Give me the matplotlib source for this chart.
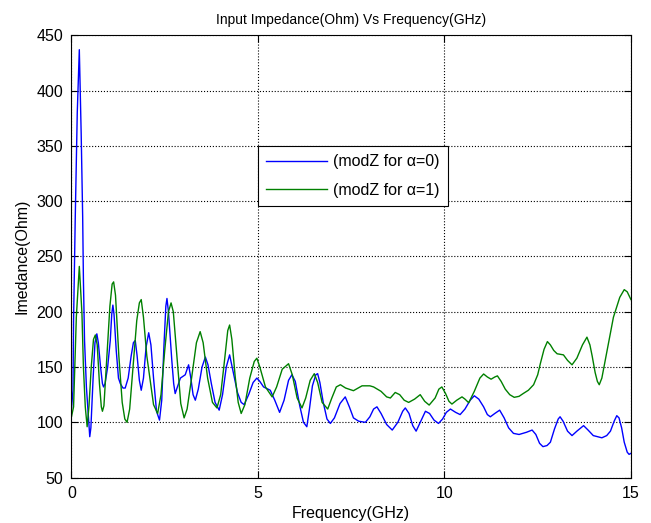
import numpy as np
import matplotlib
matplotlib.use("Agg")
import matplotlib.pyplot as plt

# DATA (GHz / Ohm)
freq_a0 = [0.00, 0.04, 0.056, 0.10, 0.155, 0.21, 0.26, 0.30, 0.32, 0.35, 0.40, 0.46, 0.49,
           0.52, 0.58, 0.63, 0.68, 0.72, 0.78, 0.83, 0.86, 0.90, 0.97, 1.04, 1.08, 1.11,
           1.14, 1.20, 1.26, 1.31, 1.38, 1.44, 1.52, 1.60, 1.66, 1.71, 1.76, 1.82, 1.87,
           1.93, 2.00, 2.07, 2.13, 2.20, 2.28, 2.36, 2.42, 2.48, 2.53, 2.56, 2.60, 2.69,
           2.74, 2.78, 2.84, 2.92, 3.05, 3.10, 3.14, 3.20, 3.26, 3.32, 3.40, 3.50, 3.59,
           3.66, 3.75, 3.85, 3.96, 4.05, 4.15, 4.24, 4.32, 4.45, 4.55, 4.63, 4.75, 4.87,
           4.97, 5.05, 5.15, 5.33, 5.45, 5.58, 5.70, 5.82, 5.91, 6.00, 6.12, 6.22, 6.31,
           6.38, 6.46, 6.55, 6.60, 6.66, 6.75, 6.85, 6.94, 7.05, 7.20, 7.34, 7.45, 7.56,
           7.70, 7.88, 8.00, 8.10, 8.19, 8.30, 8.45, 8.60, 8.75, 8.88, 8.95, 9.05, 9.15,
           9.24, 9.35, 9.49, 9.60, 9.72, 9.84, 9.95, 10.05, 10.16, 10.30, 10.42, 10.55,
           10.69, 10.80, 10.92, 11.05, 11.15, 11.23, 11.35, 11.48, 11.60, 11.72, 11.85,
           12.00, 12.20, 12.35, 12.45, 12.55, 12.64, 12.75, 12.84, 12.95, 13.05, 13.10,
           13.18, 13.30, 13.42, 13.55, 13.73, 13.85, 13.99, 14.10, 14.22, 14.35, 14.45,
           14.55, 14.62, 14.68, 14.75, 14.82, 14.90, 14.95, 15.00]
modz_a0 = [112, 129, 192, 283, 380, 437, 361, 286, 229, 174, 132, 102, 87,
           95, 140, 172, 180, 172, 150, 135, 132, 135, 150, 174, 198, 206,
           198, 165, 140, 135, 131, 131, 140, 160, 172, 174, 160, 138, 129,
           140, 168, 181, 170, 140, 110, 102, 120, 170, 205, 212, 200, 156,
           135, 126, 132, 140, 143, 148, 152, 140, 125, 120, 130, 150, 159,
           152, 135, 118, 111, 125, 150, 161, 148, 127, 118, 116, 125, 136,
           140, 137, 132, 129, 120, 109, 120, 138, 143, 137, 115, 100, 96,
           112, 133, 143, 144, 136, 118, 103, 99, 104, 117, 123, 114, 104,
           101, 100, 105, 112, 114, 108, 98, 93, 100, 110, 113, 108, 97,
           92, 100, 110, 108, 102, 99, 103, 109, 112, 109, 107, 112,
           120, 124, 121, 114, 107, 105, 108, 111, 104, 95, 90,
           89, 91, 93, 89, 81, 78, 79, 82, 94, 103, 105,
           101, 92, 88, 92, 97, 93, 88, 87, 86, 88, 92,
           101, 106, 104, 95, 82, 73, 71, 72]

freq_a1 = [0.00, 0.056, 0.13, 0.21, 0.28, 0.32, 0.37, 0.42, 0.47, 0.53, 0.59, 0.64, 0.69,
           0.75, 0.80, 0.83, 0.87, 0.95, 1.03, 1.09, 1.13, 1.18, 1.27, 1.36, 1.43, 1.49,
           1.56, 1.65, 1.75, 1.82, 1.87, 1.93, 2.02, 2.11, 2.20, 2.31, 2.40, 2.50, 2.60,
           2.67, 2.73, 2.83, 2.93, 3.02, 3.10, 3.22, 3.35, 3.45, 3.53, 3.65, 3.78, 3.90,
           4.00, 4.10, 4.19, 4.24, 4.30, 4.39, 4.47, 4.55, 4.65, 4.78, 4.90, 4.97, 5.05,
           5.20, 5.38, 5.50, 5.65, 5.82, 5.92, 6.05, 6.18, 6.28, 6.40, 6.51, 6.60, 6.72,
           6.87, 6.98, 7.10, 7.21, 7.35, 7.56, 7.79, 8.00, 8.10, 8.30, 8.45, 8.55, 8.68,
           8.80, 8.92, 9.04, 9.20, 9.35, 9.47, 9.59, 9.75, 9.85, 9.93, 10.03, 10.12,
           10.20, 10.33, 10.47, 10.55, 10.65, 10.80, 10.95, 11.05, 11.15, 11.25, 11.35,
           11.42, 11.52, 11.63, 11.75, 11.87, 12.00, 12.11, 12.25, 12.39, 12.50, 12.57,
           12.67, 12.76, 12.84, 12.93, 13.02, 13.19, 13.30, 13.42, 13.55, 13.70, 13.82,
           13.90, 13.96, 14.04, 14.10, 14.15, 14.22, 14.36, 14.53, 14.70, 14.82, 14.90,
           15.00]
modz_a1 = [105, 114, 195, 241, 199, 150, 114, 96, 115, 150, 175, 179, 170,
           135, 114, 110, 115, 160, 205, 225, 227, 215, 160, 118, 103, 100,
           112, 150, 192, 208, 211, 195, 160, 138, 116, 108, 125, 165, 200,
           208, 200, 158, 117, 104, 112, 140, 172, 182, 172, 140, 118, 113,
           125, 155, 183, 188, 175, 141, 118, 108, 116, 140, 155, 158, 150,
           132, 123, 132, 148, 153, 143, 122, 113, 122, 138, 144, 136, 118,
           112, 122, 132, 134, 131, 128.6, 133, 133, 132, 128, 123, 122, 127,
           125, 120, 118, 121, 125, 119, 115.6, 122, 130, 132, 126, 119,
           116.5, 120, 123, 121, 117.7, 128, 140, 143.7, 141, 139, 141,
           142, 137, 130, 125, 122.6, 123.5, 126, 129, 134, 143, 153,
           166, 173, 170, 165, 162, 161, 156, 152, 158, 170, 177,
           170, 160, 145, 137, 134, 140, 165, 195, 213, 220, 218,
           211]

x_ticks = [0, 5, 10, 15]
y_ticks = [50, 100, 150, 200, 250, 300, 350, 400, 450]

plt.rcParams['font.family'] = ['Liberation Sans', 'DejaVu Sans']

fig = plt.figure(figsize=(6.51, 5.23), dpi=100)
ax = fig.add_axes([0.1098, 0.0868, 0.8594, 0.8457])

ax.plot(freq_a0, modz_a0, color=(0, 0, 1), linewidth=1.0, label='(modZ for \u03b1=0)')
ax.plot(freq_a1, modz_a1, color=(0, 0.5, 0), linewidth=1.0, label='(modZ for \u03b1=1)')

ax.set_xlim(0, 15)
ax.set_ylim(50, 450)
ax.set_xticks(x_ticks)
ax.set_yticks(y_ticks)
ax.tick_params(direction='in', top=True, right=True, labelsize=11.5, length=5, pad=6)
ax.grid(True, linestyle=':', color='black', linewidth=0.8)
for s in ax.spines.values():
    s.set_linewidth(0.8)

ax.set_title('Input Impedance(Ohm) Vs Frequency(GHz)', fontsize=10, pad=8)
ax.set_xlabel('Frequency(GHz)', fontsize=11.5, labelpad=4)
ax.set_ylabel('Imedance(Ohm)', fontsize=11.5, labelpad=5)

leg = ax.legend(loc='upper left', bbox_to_anchor=(0.334, 0.749), fancybox=False,
                edgecolor='black', framealpha=1, fontsize=11.5, handlelength=3.8,
                handletextpad=0.4, labelspacing=0.85, borderpad=0.5, borderaxespad=0)
leg.get_frame().set_linewidth(0.8)

fig.savefig('out.png', dpi=100)
